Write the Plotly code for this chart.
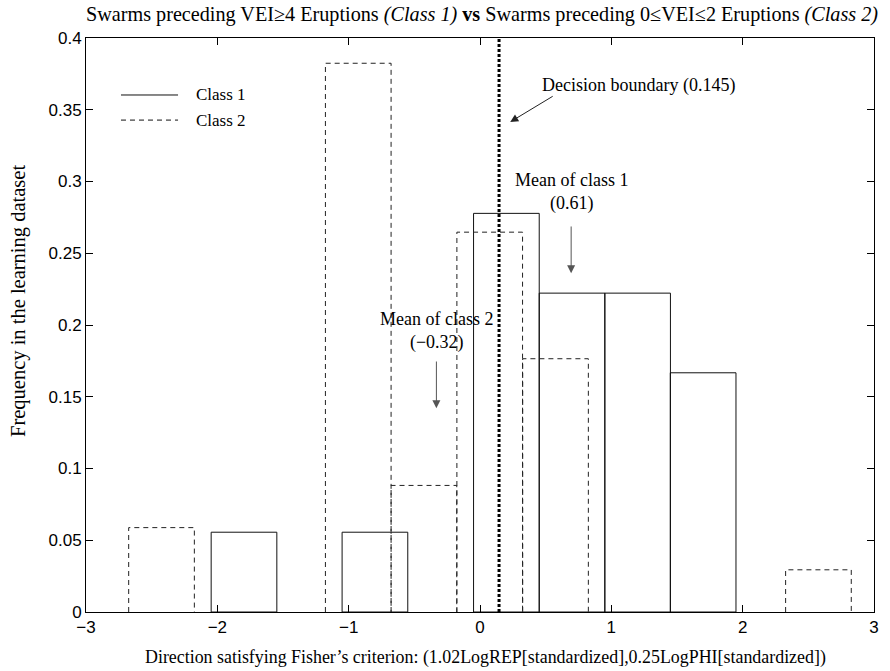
import plotly.graph_objects as go

# ---- data ----
bin_width = 0.5
class1_centers = [-1.797, -0.800, 0.201, 0.701, 1.200, 1.699]
class1_freq = [0.0556, 0.0556, 0.2778, 0.2222, 0.2222, 0.1667]
class2_centers = [-2.425, -0.927, -0.427, 0.074, 0.575, 2.577]
class2_freq = [0.0588, 0.3824, 0.0882, 0.2647, 0.1765, 0.0294]
decision_boundary = 0.145
mean_class1 = 0.61
mean_class2 = -0.32
x_ticks = [-3, -2, -1, 0, 1, 2, 3]
y_ticks = [0, 0.05, 0.1, 0.15, 0.2, 0.25, 0.3, 0.35, 0.4]

SERIF = "Liberation Serif, Times New Roman, serif"
SANS = "Liberation Sans, Arial, sans-serif"

def outline(centers, heights, w):
    xs, ys = [], []
    for c, h in zip(centers, heights):
        l, r = c - w / 2, c + w / 2
        xs += [l, l, r, r, None]
        ys += [0, h, h, 0, None]
    return xs, ys

fig = go.Figure()

# Class 2 dashed outlines
x2, y2 = outline(class2_centers, class2_freq, bin_width)
fig.add_trace(go.Scatter(x=x2, y=y2, mode="lines",
                         line=dict(color="#222", width=1, dash="5px,4px"),
                         hoverinfo="skip", showlegend=False))

# Class 1 solid outlined bars
fig.add_trace(go.Bar(x=class1_centers, y=class1_freq, width=bin_width,
                     marker=dict(color="rgba(0,0,0,0)", line=dict(color="#111", width=1)),
                     showlegend=False))

# Decision boundary
fig.add_trace(go.Scatter(x=[decision_boundary, decision_boundary], y=[0, 0.4], mode="lines",
                         line=dict(color="black", width=3, dash="3px,2px"),
                         hoverinfo="skip", showlegend=False))

annotations = []
# Decision boundary label + arrow
annotations.append(dict(x=0.23, y=0.3415, ax=0.565, ay=0.360, xref="x", yref="y",
                        axref="x", ayref="y", text="", showarrow=True,
                        arrowhead=2, arrowsize=1.6, arrowwidth=1, arrowcolor="#222"))
annotations.append(dict(x=1.21, y=0.367, xref="x", yref="y", showarrow=False,
                        text="Decision boundary (%.3f)" % decision_boundary,
                        font=dict(family=SERIF, size=18, color="black")))
# Mean class 1
annotations.append(dict(x=0.694, y=0.236, ax=0.694, ay=0.2697, xref="x", yref="y",
                        axref="x", ayref="y", text="", showarrow=True,
                        arrowhead=2, arrowsize=1.6, arrowwidth=1, arrowcolor="#555"))
annotations.append(dict(x=0.694, y=0.293, xref="x", yref="y", showarrow=False,
                        text="Mean of class 1<br>(%.2f)" % mean_class1,
                        font=dict(family=SERIF, size=18, color="black")))
# Mean class 2
annotations.append(dict(x=-0.332, y=0.142, ax=-0.332, ay=0.1756, xref="x", yref="y",
                        axref="x", ayref="y", text="", showarrow=True,
                        arrowhead=2, arrowsize=1.6, arrowwidth=1, arrowcolor="#555"))
annotations.append(dict(x=-0.332, y=0.196, xref="x", yref="y", showarrow=False,
                        text="Mean of class 2<br>(\u2212%.2f)" % abs(mean_class2),
                        font=dict(family=SERIF, size=18, color="black")))

# Axis titles
annotations.append(dict(x=-0.0863, y=0.5418, xref="paper", yref="paper", showarrow=False,
                        xanchor="center", yanchor="middle",
                        textangle=-90, text="Frequency in the learning dataset",
                        font=dict(family=SERIF, size=20.5, color="black")))
annotations.append(dict(x=0.5076, y=-0.0784, xref="paper", yref="paper", showarrow=False,
                        xanchor="center", yanchor="middle",
                        text="Direction satisfying Fisher\u2019s criterion: (1.02LogREP[standardized],0.25LogPHI[standardized])",
                        font=dict(family=SERIF, size=17.9, color="black")))

# Manual legend
shapes = []
legend_items = [("Class 1", "solid", 0.9007), ("Class 2", "5px,4px", 0.857)]
for name, dash, yy in legend_items:
    shapes.append(dict(type="line", xref="paper", yref="paper", x0=0.0444, x1=0.1168,
                       y0=yy, y1=yy, line=dict(color="#111", width=1, dash=dash)))
    annotations.append(dict(x=0.137, y=yy, xref="paper", yref="paper", showarrow=False,
                            xanchor="left", yanchor="middle", text=name,
                            font=dict(family=SERIF, size=17, color="black")))

fig.update_layout(
    width=890, height=671,
    margin=dict(l=86, r=16, t=38, b=59),
    paper_bgcolor="white", plot_bgcolor="white",
    barmode="overlay",
    title=dict(text="Swarms preceding VEI\u22654 Eruptions <i>(Class 1)</i> <b>vs</b> Swarms preceding 0\u2264VEI\u22642 Eruptions <i>(Class 2)</i>",
               x=0.5416, xanchor="center", y=0.979, yanchor="middle", yref="container",
               font=dict(family=SERIF, size=20.2, color="black")),
    xaxis=dict(range=[-3, 3], tickvals=x_ticks, ticktext=[str(v).replace("-", "\u2212") for v in x_ticks],
               showline=True, linecolor="black", linewidth=1, mirror="ticks", automargin=False,
               ticks="inside", ticklen=7, tickcolor="black", showgrid=False, zeroline=False,
               tickfont=dict(family=SANS, size=17, color="black")),
    yaxis=dict(range=[0, 0.4], tickvals=y_ticks, ticktext=[("%g" % v) for v in y_ticks],
               showline=True, linecolor="black", linewidth=1, mirror="ticks", automargin=False,
               ticks="inside", ticklen=7, tickcolor="black", showgrid=False, zeroline=False,
               tickfont=dict(family=SANS, size=17, color="black")),
    annotations=annotations, shapes=shapes,
)

fig.write_html("out.html", config={"displayModeBar": False},
               post_script="document.body.style.margin='0';")
